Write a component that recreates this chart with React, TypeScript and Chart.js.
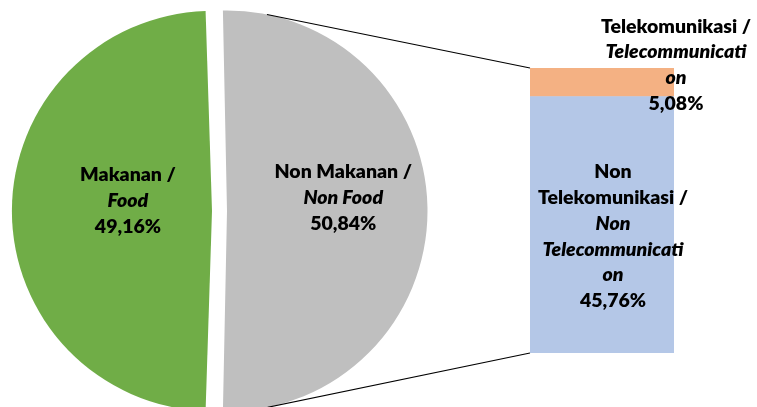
import React, { useEffect, useRef } from "react";
import { Chart, registerables } from "chart.js";

Chart.register(...registerables);

// ---- Data ----
const pieCategories = ["Makanan", "Non Makanan"];
const pieCategoriesEn = ["Food", "Non Food"];
const pieValues = [49.16, 50.84];
const pieColors = ["#70AD47", "#BFBFBF"];

const barCategories = ["Non Telekomunikasi", "Telekomunikasi"];
const barValues = [45.76, 5.08];
const barColors = ["#B4C7E7", "#F4B183"];

// wrapped label lines: [text, italic]
const pieLabelLines: [string, boolean][][] = [
  [["Makanan /", false], ["Food", true]],
  [["Non Makanan /", false], ["Non Food", true]],
];
const barLabelLines: [string, boolean][][] = [
  [["Non", false], ["Telekomunikasi /", false], ["Non", true], ["Telecommunicati", true], ["on", true]],
  [["Telekomunikasi /", false], ["Telecommunicati", true], ["on", true]],
];

const fmt = (v: number) => v.toFixed(2).replace(".", ",") + "%";

const FONT = "Lato, 'DejaVu Sans', sans-serif";
const FONT_SIZE = 19.5;
const FONT_WEIGHT = 800;
const LINE_H = 25.7;

function drawBlock(ctx: CanvasRenderingContext2D, lines: [string, boolean][], x: number, cy: number) {
  const n = lines.length;
  ctx.save();
  ctx.fillStyle = "#000000";
  ctx.textAlign = "center";
  ctx.textBaseline = "alphabetic";
  lines.forEach(([t, it], i) => {
    ctx.font = `${it ? "italic " : ""}${FONT_WEIGHT} ${FONT_SIZE}px ${FONT}`;
    const by = cy + (i - (n - 1) / 2) * LINE_H + 6;
    ctx.fillText(t, x, by);
  });
  ctx.restore();
}

function arcGeom(arc: any) {
  const off = (arc.options.offset || 0) / 4;
  const half = (arc.startAngle + arc.endAngle) / 2;
  const circ = arc.endAngle - arc.startAngle;
  return {
    cx: arc.x + Math.cos(half) * off,
    cy: arc.y + Math.sin(half) * off,
    r: arc.outerRadius + off * (1 - Math.sin(Math.min(Math.PI, circ))),
    half,
  };
}

export default function App() {
  const pieRef = useRef<HTMLCanvasElement>(null);
  const barRef = useRef<HTMLCanvasElement>(null);

  useEffect(() => {
    document.body.style.margin = "0";
    const total = pieValues.reduce((a, b) => a + b, 0);
    const fracFood = pieValues[0] / total;
    const fracNon = pieValues[1] / total;
    const rotation = 90 - fracFood * 360 - (fracNon * 360) / 2;

    const pieLabelPos = [
      { k: 0.42, dy: -10 },
      { k: 0.58, dy: -13 },
    ];

    const pieLabelPlugin = {
      id: "pieLabels",
      afterDatasetsDraw(chart: any) {
        const ctx = chart.ctx;
        const meta = chart.getDatasetMeta(0);
        meta.data.forEach((arc: any, i: number) => {
          const g = arcGeom(arc);
          const x = g.cx + Math.cos(g.half) * pieLabelPos[i].k * g.r;
          const y = g.cy + Math.sin(g.half) * pieLabelPos[i].k * g.r + pieLabelPos[i].dy;
          const lines: [string, boolean][] = [...pieLabelLines[i], [fmt(pieValues[i]), false]];
          drawBlock(ctx, lines, x, y);
        });
      },
    };

    const pie = new Chart(pieRef.current as HTMLCanvasElement, {
      type: "pie",
      data: {
        labels: pieCategories.map((c, i) => `${c} / ${pieCategoriesEn[i]}`),
        datasets: [
          {
            data: pieValues,
            backgroundColor: pieColors,
            borderWidth: 0,
            offset: 30,
            hoverOffset: 0,
            clip: false as any,
          },
        ],
      },
      options: {
        responsive: false,
        animation: false,
        devicePixelRatio: 1,
        events: [],
        rotation,
        radius: 193,
        layout: { padding: { left: 0, right: 318, top: 15, bottom: 0 } },
        plugins: { legend: { display: false }, tooltip: { enabled: false } },
      } as any,
      plugins: [pieLabelPlugin],
    });

    const connectorPlugin = {
      id: "connectors",
      beforeDatasetsDraw(chart: any) {
        const arc = pie.getDatasetMeta(0).data[1] as any;
        const g = arcGeom(arc);
        const topEl: any = chart.getDatasetMeta(1).data[0];
        const botEl: any = chart.getDatasetMeta(0).data[0];
        const left = topEl.x - topEl.width / 2;
        const pts = [
          { x: left, y: topEl.y, sign: -1 },
          { x: left, y: botEl.base, sign: 1 },
        ];
        const ctx = chart.ctx;
        ctx.save();
        ctx.strokeStyle = "#000000";
        ctx.lineWidth = 1.1;
        pts.forEach((p) => {
          const dx = p.x - g.cx;
          const dy = p.y - g.cy;
          const d = Math.hypot(dx, dy);
          const phi = Math.atan2(dy, dx);
          const th = Math.acos(g.r / d);
          const a = phi + p.sign * th;
          ctx.beginPath();
          ctx.moveTo(g.cx + g.r * Math.cos(a), g.cy + g.r * Math.sin(a));
          ctx.lineTo(p.x, p.y);
          ctx.stroke();
        });
        ctx.restore();
      },
    };

    const barLabelPlugin = {
      id: "barLabels",
      afterDatasetsDraw(chart: any) {
        const ctx = chart.ctx;
        const blue: any = chart.getDatasetMeta(0).data[0];
        const orange: any = chart.getDatasetMeta(1).data[0];
        drawBlock(
          ctx,
          [...barLabelLines[0], [fmt(barValues[0]), false]],
          blue.x + 11,
          (blue.y + blue.base) / 2 + 12
        );
        drawBlock(
          ctx,
          [...barLabelLines[1], [fmt(barValues[1]), false]],
          orange.x + orange.width / 2 + 2,
          (orange.y + orange.base) / 2 - 17
        );
      },
    };

    const bar = new Chart(barRef.current as HTMLCanvasElement, {
      type: "bar",
      data: {
        labels: ["Non Makanan"],
        datasets: barCategories.map((c, i) => ({
          label: c,
          data: [barValues[i]],
          backgroundColor: barColors[i],
          borderWidth: 0,
          barPercentage: 1,
          categoryPercentage: 1,
        })),
      },
      options: {
        responsive: false,
        animation: false,
        devicePixelRatio: 1,
        events: [],
        layout: { padding: { left: 530, right: 83, top: 68, bottom: 54 } },
        scales: {
          x: { display: false, stacked: true },
          y: { display: false, stacked: true, min: 0, max: barValues.reduce((a, b) => a + b, 0) },
        },
        plugins: { legend: { display: false }, tooltip: { enabled: false } },
      } as any,
      plugins: [connectorPlugin, barLabelPlugin],
    });

    return () => {
      bar.destroy();
      pie.destroy();
    };
  }, []);

  return (
    <div style={{ position: "fixed", left: 0, top: 0, width: 757, height: 407, background: "#ffffff", overflow: "hidden" }}>
      <canvas ref={pieRef} width={757} height={407} style={{ position: "absolute", left: 0, top: 0 }} />
      <canvas ref={barRef} width={757} height={407} style={{ position: "absolute", left: 0, top: 0 }} />
    </div>
  );
}
